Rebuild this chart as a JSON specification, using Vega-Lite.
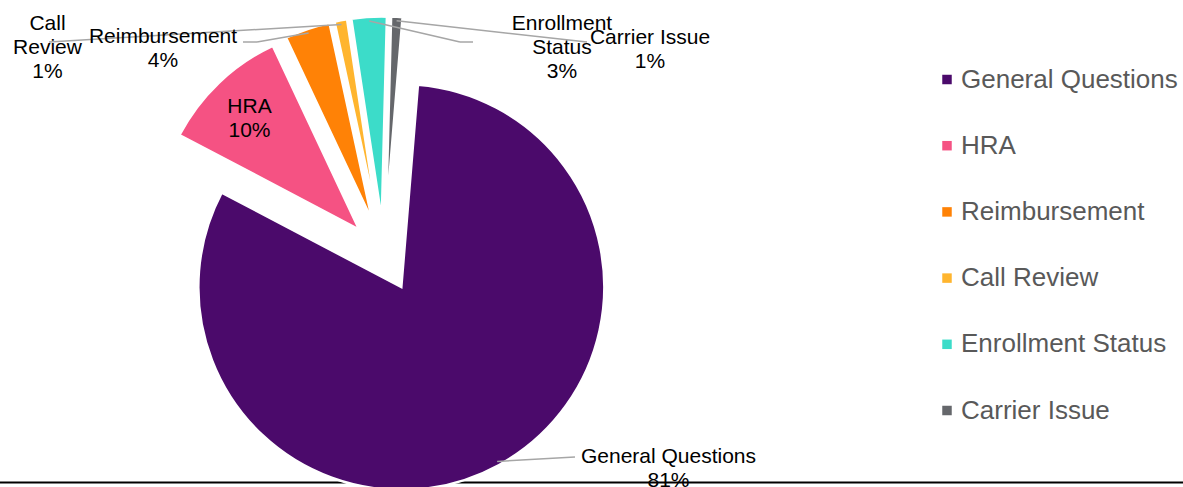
{
  "$schema": "https://vega.github.io/schema/vega-lite/v6.json",
  "width": 1183,
  "height": 487,
  "autosize": {"type": "none"},
  "padding": 0,
  "background": "white",
  "config": {"view": {"stroke": null}, "font": "Liberation Sans"},
  "data": {
    "values": [
      {"category": "General Questions", "value": 0.814},
      {"category": "HRA", "value": 0.103},
      {"category": "Reimbursement", "value": 0.036},
      {"category": "Call Review", "value": 0.010},
      {"category": "Enrollment Status", "value": 0.028},
      {"category": "Carrier Issue", "value": 0.009}
    ]
  },
  "transform": [
    {"window": [{"op": "sum", "field": "value", "as": "cum1"}], "frame": [null, 0]},
    {"calculate": "datum.cum1 - datum.value", "as": "cum0"},
    {"calculate": "0.082 + PI * (datum.cum0 + datum.cum1)", "as": "mid"},
    {"calculate": "36 * sin(datum.mid)", "as": "ex"},
    {"calculate": "-36 * cos(datum.mid)", "as": "ey"},
    {"calculate": "datum.ex + 199 * sin(datum.mid)", "as": "sx"},
    {"calculate": "datum.ey - 199 * cos(datum.mid)", "as": "sy"},
    {"calculate": "datum.category == 'General Questions' ? 284.5 : datum.category == 'HRA' ? -134.5 : datum.category == 'Reimbursement' ? -221 : datum.category == 'Call Review' ? -336.5 : datum.category == 'Enrollment Status' ? 178 : 266", "as": "lx"},
    {"calculate": "datum.category == 'General Questions' ? 201.5 : datum.category == 'HRA' ? -148.5 : datum.category == 'Reimbursement' ? -218.5 : datum.category == 'Call Review' ? -231.5 : datum.category == 'Enrollment Status' ? -231.5 : -218", "as": "ly"},
    {"calculate": "datum.category == 'General Questions' ? 191 : datum.category == 'Reimbursement' ? -127 : datum.category == 'Call Review' ? -335 : datum.category == 'Enrollment Status' ? 76 : 203", "as": "kx"},
    {"calculate": "datum.category == 'General Questions' ? 201.5 : -213.5", "as": "ky"},
    {"calculate": "datum.category == 'Reimbursement' ? -141 : datum.category == 'Enrollment Status' ? 89 : datum.kx", "as": "tx"},
    {"calculate": "datum.category == 'Call Review' || datum.category == 'Enrollment Status' ? [split(datum.category, ' ')[0], split(datum.category, ' ')[1], format(datum.value, '.0%')] : [datum.category, format(datum.value, '.0%')]", "as": "lines"}
  ],
  "layer": [
    {
      "transform": [{"filter": "datum.category == 'General Questions'"}],
      "mark": {"type": "rule", "stroke": "#000000", "strokeWidth": 2},
      "encoding": {
        "y": {"datum": 227, "type": "quantitative", "scale": {"domain": [-255.5, 231.5], "nice": false, "zero": false, "reverse": true}, "axis": null}
      }
    },
    {
      "mark": {"type": "arc", "radius": 203, "stroke": "white", "strokeWidth": 2.5},
      "encoding": {
        "theta": {"field": "cum0", "type": "quantitative", "scale": {"domain": [0, 1], "range": [0.082, 6.365185]}},
        "theta2": {"field": "cum1"},
        "x": {"field": "ex", "type": "quantitative", "scale": {"domain": [-384, 799], "nice": false, "zero": false}, "axis": null},
        "y": {"field": "ey", "type": "quantitative", "scale": {"domain": [-255.5, 231.5], "nice": false, "zero": false, "reverse": true}, "axis": null},
        "color": {
          "field": "category",
          "type": "nominal",
          "scale": {
            "domain": ["General Questions", "HRA", "Reimbursement", "Call Review", "Enrollment Status", "Carrier Issue"],
            "range": ["#4B0A6B", "#F55283", "#FF8206", "#FFB52E", "#3CDCC9", "#65676B"]
          },
          "legend": {
            "orient": "none",
            "legendX": 934,
            "legendY": 66.5,
            "title": null,
            "symbolType": "square",
            "symbolSize": 90,
            "symbolStrokeWidth": 0,
            "labelFont": "Liberation Sans",
            "labelFontSize": 26,
            "labelColor": "#595959",
            "labelLimit": 400,
            "labelOffset": 1,
            "rowPadding": 40.2,
            "padding": 0
          }
        }
      }
    },
    {
      "transform": [{"filter": "datum.category != 'HRA'"}],
      "mark": {"type": "rule", "stroke": "#A6A6A6", "strokeWidth": 1.5},
      "encoding": {
        "x": {"field": "sx", "type": "quantitative", "scale": {"domain": [-384, 799], "nice": false, "zero": false}, "axis": null},
        "y": {"field": "sy", "type": "quantitative", "scale": {"domain": [-255.5, 231.5], "nice": false, "zero": false, "reverse": true}, "axis": null},
        "x2": {"field": "kx"},
        "y2": {"field": "ky"}
      }
    },
    {
      "transform": [{"filter": "datum.category == 'Reimbursement' || datum.category == 'Enrollment Status'"}],
      "mark": {"type": "rule", "stroke": "#A6A6A6", "strokeWidth": 1.5},
      "encoding": {
        "x": {"field": "kx", "type": "quantitative", "scale": {"domain": [-384, 799], "nice": false, "zero": false}, "axis": null},
        "y": {"field": "ky", "type": "quantitative", "scale": {"domain": [-255.5, 231.5], "nice": false, "zero": false, "reverse": true}, "axis": null},
        "x2": {"field": "tx"},
        "y2": {"field": "ky"}
      }
    },
    {
      "mark": {"type": "text", "fontSize": 21, "lineHeight": 24, "align": "center", "baseline": "middle", "color": "#000000", "font": "Liberation Sans"},
      "encoding": {
        "x": {"field": "lx", "type": "quantitative", "scale": {"domain": [-384, 799], "nice": false, "zero": false}, "axis": null},
        "y": {"field": "ly", "type": "quantitative", "scale": {"domain": [-255.5, 231.5], "nice": false, "zero": false, "reverse": true}, "axis": null},
        "text": {"field": "lines", "type": "nominal"}
      }
    }
  ]
}
